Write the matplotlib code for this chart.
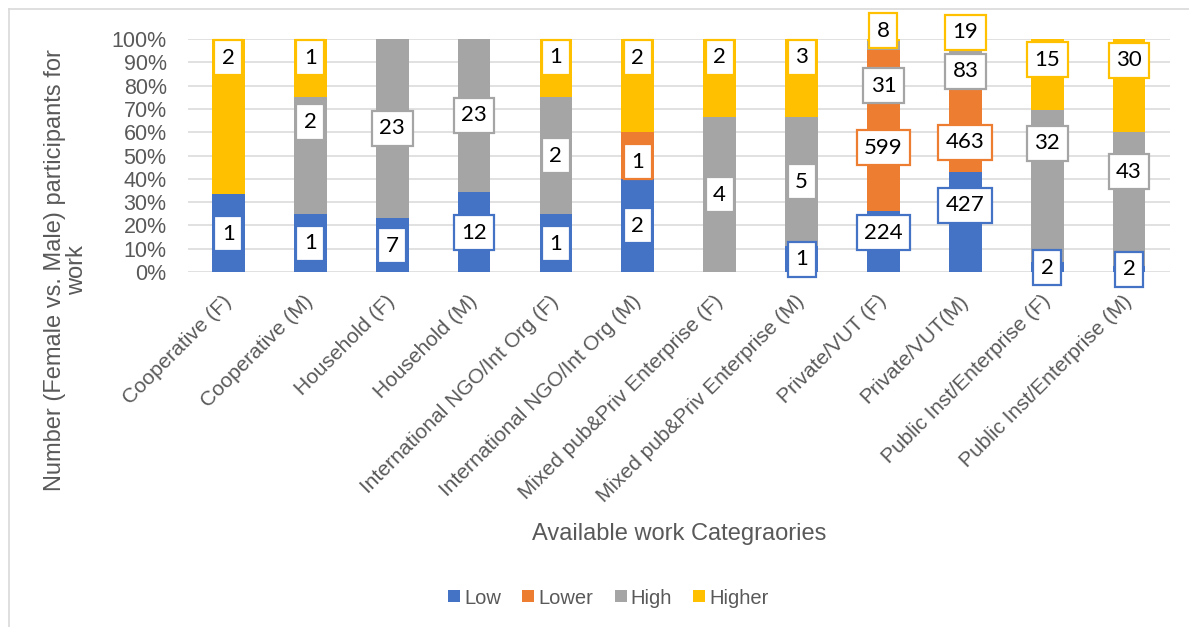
import matplotlib
matplotlib.use("Agg")
import matplotlib.pyplot as plt
from matplotlib.lines import Line2D
from matplotlib.ticker import FuncFormatter
import numpy as np

# ---- data -------------------------------------------------------------
categories = [
    "Cooperative (F)", "Cooperative (M)",
    "Household (F)", "Household (M)",
    "International NGO/Int Org (F)", "International NGO/Int Org (M)",
    "Mixed pub&Priv Enterprise (F)", "Mixed pub&Priv Enterprise (M)",
    "Private/VUT (F)", "Private/VUT(M)",
    "Public Inst/Enterprise (F)", "Public Inst/Enterprise (M)",
]
series_names = ["Low", "Lower", "High", "Higher"]
low    = [1, 1, 7, 12, 1, 2, 0, 1, 224, 427, 2, 2]
lower  = [0, 0, 0, 0, 0, 1, 0, 0, 599, 463, 0, 0]
high   = [0, 2, 23, 23, 2, 0, 4, 5, 31, 83, 32, 43]
higher = [2, 1, 0, 0, 1, 2, 2, 3, 8, 19, 15, 30]
y_ticks = [0, 10, 20, 30, 40, 50, 60, 70, 80, 90, 100]

# ---- styling / layout ---------------------------------------------------
colors = {"Low": "#4472C4", "Lower": "#ED7D31", "High": "#A5A5A5", "Higher": "#FFC000"}
text_grey = "#595959"
grid_grey = "#D9D9D9"

# vertical placement of each data label (percent of the bar), None = no label
label_y = {
    "Low":    [16.4, 12.3, 11.2, 16.8, 12.2, 19.8, None, 5.4, 16.8, 28.7, 1.8, 1.1],
    "Lower":  [None, None, None, None, None, 47.3, None, None, 53.4, 55.7, None, None],
    "High":   [None, 64.4, 61.7, 67.2, 50.0, None, 33.1, 38.8, 80.0, 86.1, 55.3, 43.0],
    "Higher": [92.0, 92.0, None, None, 92.1, 92.0, 92.2, 92.2, 103.5, 102.8, 91.2, 90.8],
}

W, H = 1189, 627
fig = plt.figure(figsize=(W / 100, H / 100), dpi=100)
ax = fig.add_axes([187.5 / W, 1 - 272 / H, (1170 - 187.5) / W, (272 - 39) / H])

counts = np.array([low, lower, high, higher], dtype=float)
totals = counts.sum(axis=0)
shares = counts / totals * 100

x = np.arange(len(categories))
bottom = np.zeros(len(categories))
for name, share in zip(series_names, shares):
    ax.bar(x, share, 0.4, bottom=bottom, color=colors[name], label=name,
           zorder=2, linewidth=0)
    bottom += share

# data labels in white boxes outlined in the series colour
for name, vals in zip(series_names, counts):
    for i, (v, ypos) in enumerate(zip(vals, label_y[name])):
        if v == 0 or ypos is None:
            continue
        ax.text(i, ypos, f"{int(v)}", ha="center", va="center",
                fontsize=16, family="Lato", color="black", zorder=5,
                bbox=dict(boxstyle="square,pad=0.34", facecolor="white",
                          edgecolor=colors[name], linewidth=1.6))

ax.set_xlim(-0.5, len(categories) - 0.5)
ax.set_ylim(0, 100)
ax.set_yticks(y_ticks)
ax.yaxis.set_major_formatter(FuncFormatter(lambda v, _: f"{v:.0f}%"))
ax.grid(axis="y", color=grid_grey, linewidth=1.1, zorder=0)
ax.set_axisbelow(True)
for s in ax.spines.values():
    s.set_visible(False)

ax.tick_params(axis="y", length=0, pad=15, labelsize=15.5, labelcolor=text_grey)
ax.tick_params(axis="x", length=0, pad=19, labelsize=15, labelcolor=text_grey)
ax.set_xticks(x)
ax.set_xticklabels(categories, rotation=45, ha="right", va="center",
                   rotation_mode="anchor")
for lab in ax.get_xticklabels() + ax.get_yticklabels():
    lab.set_family("Liberation Sans")

# axis titles
fig.text(66 / W, 1 - 270 / H, "Number (Female vs. Male) participants for\nwork",
         rotation=90, ha="center", va="center", multialignment="center",
         fontsize=17, color=text_grey, family="Liberation Sans", linespacing=1.0)
fig.text(679 / W, 1 - 540 / H, "Available work Categraories", ha="center",
         va="baseline", fontsize=17, color=text_grey, family="Liberation Sans")

# legend
handles = [Line2D([], [], marker="s", linestyle="none", markersize=8,
                  markerfacecolor=colors[n], markeredgewidth=0) for n in series_names]
fig.legend(handles, series_names, loc="center", bbox_to_anchor=(608 / W, 1 - 598 / H),
           ncol=4, frameon=False, handlelength=0.7, handletextpad=0.15,
           columnspacing=1.0, prop={"family": "Liberation Sans", "size": 14.5},
           labelcolor=text_grey)

# chart-area frame
fig.add_artist(Line2D([9 / W, 9 / W], [0, 1 - 9 / H], color=grid_grey, linewidth=1.2))
fig.add_artist(Line2D([9 / W, 1], [1 - 9 / H, 1 - 9 / H], color=grid_grey, linewidth=1.2))

fig.savefig("out.png", dpi=100)
